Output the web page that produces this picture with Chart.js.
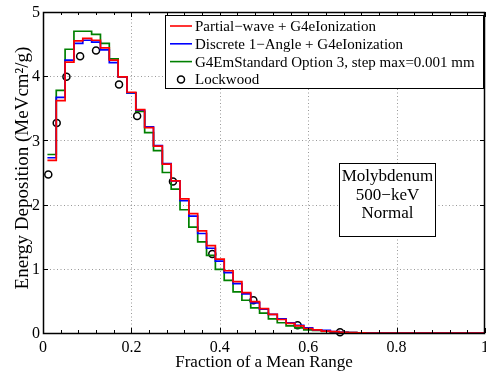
<!DOCTYPE html>
<html>
<head>
<meta charset="utf-8">
<script src="https://cdn.jsdelivr.net/npm/chart.js@4.4.0/dist/chart.umd.min.js"></script>
<style>
html,body{margin:0;padding:0;background:#fff;}
#wrap{width:486px;height:373px;position:relative;}
</style>
</head>
<body>
<div id="wrap"><canvas id="c" width="486" height="373"></canvas></div>
<script>
// ---- data ----
const binEdges = [0.01,0.03,0.05,0.07,0.09,0.11,0.13,0.15,0.17,0.19,0.21,0.23,0.25,0.27,0.29,0.31,0.33,0.35,0.37,0.39,0.41,0.43,0.45,0.47,0.49,0.51,0.53,0.55,0.57,0.59,0.61,0.63,0.65,0.67,0.69,0.71,0.73,1.0];
const partialWave = [2.69,3.62,4.22,4.55,4.59,4.56,4.44,4.25,3.99,3.75, 3.48,3.20,2.91,2.63,2.37,2.09,1.86,1.59,1.36,1.15, 0.97,0.80,0.63,0.49,0.38,0.29,0.21,0.15,0.11,0.07, 0.05,0.03,0.02,0.01,0.005,0.002,0];
const discrete1Angle = [2.73,3.67,4.25,4.51,4.56,4.53,4.41,4.21,3.99,3.74, 3.47,3.21,2.92,2.64,2.37,2.06,1.82,1.55,1.32,1.12, 0.94,0.77,0.61,0.47,0.37,0.29,0.22,0.16,0.12,0.08, 0.05,0.04,0.02,0.01,0.005,0.002,0];
const emStandardOpt3 = [2.78,3.78,4.42,4.70,4.70,4.65,4.51,4.27,3.99,3.74, 3.45,3.12,2.84,2.50,2.24,1.92,1.65,1.42,1.21,0.99, 0.82,0.64,0.51,0.39,0.31,0.22,0.16,0.11,0.08,0.05, 0.04,0.025,0.015,0.01,0.005,0.002,0];
const lockwoodX = [0.012,0.031,0.053,0.084,0.120,0.172,0.213,0.294,0.383,0.476,0.576,0.672];
const lockwoodY = [2.47,3.27,3.99,4.31,4.40,3.87,3.38,2.36,1.23,0.51,0.12,0.01];
const seriesNames = ['Partial\u2212wave + G4eIonization','Discrete 1\u2212Angle + G4eIonization','G4EmStandard Option 3, step max=0.001 mm','Lockwood'];
const seriesColors = ['#ff0000','#0000ff','#008000','#000000'];
const xTicks = [0,0.2,0.4,0.6,0.8,1];
const xTickLabels = ['0','0.2','0.4','0.6','0.8','1'];
const xMinorTicks = [0.04,0.08,0.12,0.16,0.24,0.28,0.32,0.36,0.44,0.48,0.52,0.56,0.64,0.68,0.72,0.76,0.84,0.88,0.92,0.96];
const yTicks = [0,1,2,3,4,5];
const yTickLabels = ['0','1','2','3','4','5'];
const xTitle = 'Fraction of a Mean Range';
const yTitle = 'Energy Deposition (MeVcm\u00B2/g)';
const annotationLines = ['Molybdenum','500\u2212keV','Normal'];

function stairs(vals){
  const pts = vals.map((v,i)=>({x:binEdges[i], y:v}));
  pts.push({x:binEdges[vals.length], y:vals[vals.length-1]});
  return pts;
}
const FONT = "'Liberation Serif','DejaVu Serif',serif";

const matlabAxes = {
  id:'matlabAxes',
  beforeDatasetsDraw(chart){
    const {ctx, chartArea:a, scales:{x,y}} = chart;
    ctx.save();
    ctx.strokeStyle='rgba(0,0,0,0.4)';
    ctx.lineWidth=1;
    ctx.setLineDash([1,2.5]);
    xTicks.forEach(t=>{ if(t<=0||t>=1) return; const px=Math.round(x.getPixelForValue(t))+0.5; ctx.beginPath(); ctx.moveTo(px,a.top); ctx.lineTo(px,a.bottom); ctx.stroke(); });
    yTicks.forEach(t=>{ if(t<=0||t>=5) return; const py=Math.round(y.getPixelForValue(t))+0.5; ctx.beginPath(); ctx.moveTo(a.left,py); ctx.lineTo(a.right,py); ctx.stroke(); });
    ctx.restore();
  },
  afterDatasetsDraw(chart){
    const {ctx, chartArea:a, scales:{x,y}} = chart;
    ctx.save();
    ctx.setLineDash([]);
    ctx.strokeStyle='#000';
    ctx.lineWidth=1;
    const tick=(x1,y1,x2,y2)=>{ctx.beginPath();ctx.moveTo(x1,y1);ctx.lineTo(x2,y2);ctx.stroke();};
    xTicks.forEach(t=>{const px=Math.round(x.getPixelForValue(t))+0.5; tick(px,a.bottom,px,a.bottom-5); tick(px,a.top,px,a.top+5);});
    xMinorTicks.forEach(t=>{const px=Math.round(x.getPixelForValue(t))+0.5; tick(px,a.bottom,px,a.bottom-3); tick(px,a.top,px,a.top+3);});
    yTicks.forEach(t=>{const py=Math.round(y.getPixelForValue(t))+0.5; tick(a.left,py,a.left+5,py); tick(a.right,py,a.right-5,py);});
    // frame
    ctx.lineWidth=1.5;
    ctx.strokeRect(Math.round(a.left)+0.5, Math.round(a.top)+0.5, Math.round(a.right-a.left)-1, Math.round(a.bottom-a.top));
    // tick labels
    ctx.fillStyle='#000';
    ctx.font='16px '+FONT;
    ctx.textAlign='center'; ctx.textBaseline='alphabetic';
    xTicks.forEach((t,i)=>{ctx.fillText(xTickLabels[i], x.getPixelForValue(t), 352);});
    ctx.textAlign='right'; ctx.textBaseline='middle';
    yTicks.forEach((t,i)=>{ctx.fillText(yTickLabels[i], a.left-3, y.getPixelForValue(t)+1);});
    // axis titles
    ctx.font='17px '+FONT;
    ctx.textAlign='center'; ctx.textBaseline='alphabetic';
    ctx.fillText(xTitle, (a.left+a.right)/2, 367);
    ctx.save();
    ctx.font='19px '+FONT;
    ctx.translate(28, 168);
    ctx.rotate(-Math.PI/2);
    ctx.fillText(yTitle, 0, 0);
    ctx.restore();
    // legend
    const lx=165.5, ly=15.5, lw=318, lh=73;
    ctx.fillStyle='#fff'; ctx.fillRect(lx,ly,lw,lh);
    ctx.lineWidth=1; ctx.strokeStyle='#000'; ctx.strokeRect(lx,ly,lw,lh);
    ctx.font='15px '+FONT; ctx.textAlign='left'; ctx.textBaseline='middle';
    seriesNames.forEach((n,i)=>{
      const ry = 26 + 17.8*i;
      if(i<3){ ctx.strokeStyle=seriesColors[i]; ctx.lineWidth=1.6; ctx.beginPath(); ctx.moveTo(170,ry); ctx.lineTo(192,ry); ctx.stroke(); }
      else { ctx.strokeStyle='#000'; ctx.lineWidth=1.5; ctx.beginPath(); ctx.arc(181,ry,3.5,0,Math.PI*2); ctx.stroke(); }
      ctx.fillStyle='#000'; ctx.fillText(n, 195, ry+1);
    });
    // annotation box
    const bx=339.5, by=163.5, bw=96, bh=73;
    ctx.fillStyle='#fff'; ctx.fillRect(bx,by,bw,bh);
    ctx.strokeStyle='#000'; ctx.lineWidth=1; ctx.strokeRect(bx,by,bw,bh);
    ctx.fillStyle='#000'; ctx.font='17px '+FONT; ctx.textAlign='center'; ctx.textBaseline='middle';
    annotationLines.forEach((t,i)=>ctx.fillText(t, bx+bw/2, 177+18.3*i));
    ctx.restore();
  }
};

const lineDs = (label, vals, color)=>({
  type:'line', label, data:stairs(vals), borderColor:color, backgroundColor:color,
  borderWidth:1.7, pointRadius:0, stepped:'before', fill:false, tension:0
});

new Chart(document.getElementById('c'), {
  type:'line',
  data:{
    datasets:[
      lineDs(seriesNames[0], partialWave, seriesColors[0]),
      lineDs(seriesNames[1], discrete1Angle, seriesColors[1]),
      lineDs(seriesNames[2], emStandardOpt3, seriesColors[2]),
      { type:'line', label:seriesNames[3], data:lockwoodX.map((v,i)=>({x:v,y:lockwoodY[i]})),
        showLine:false, pointRadius:3.5, pointBorderWidth:1.5, pointBorderColor:'#000',
        pointBackgroundColor:'rgba(0,0,0,0)', borderColor:'#000', clip:false }
    ]
  },
  options:{
    responsive:false, animation:false, devicePixelRatio:1,
    layout:{autoPadding:false, padding:{left:43, top:12, right:1, bottom:40}},
    plugins:{legend:{display:false}, tooltip:{enabled:false}},
    scales:{
      x:{type:'linear', min:0, max:1, display:false},
      y:{type:'linear', min:0, max:5, display:false}
    }
  },
  plugins:[matlabAxes]
});
</script>
</body>
</html>
